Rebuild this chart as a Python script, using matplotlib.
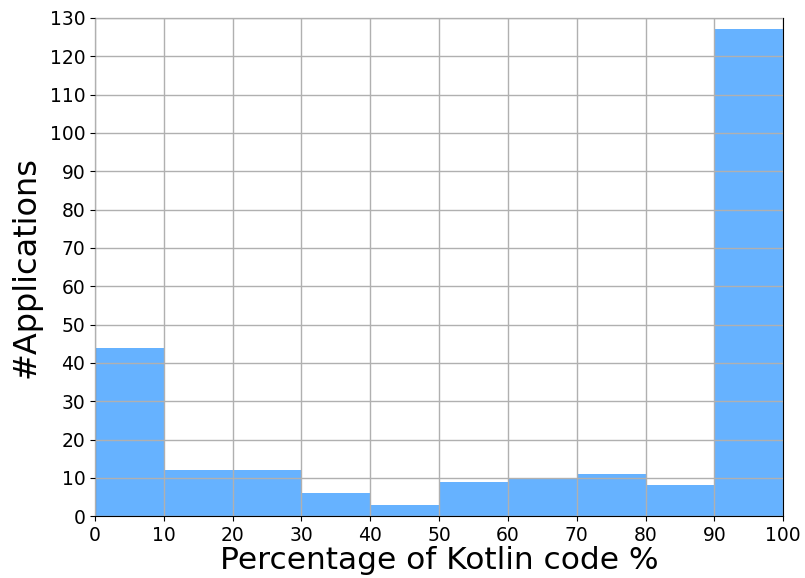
import numpy as np
import matplotlib
matplotlib.use('Agg')
import matplotlib.pyplot as plt

bin_edges = [0, 10, 20, 30, 40, 50, 60, 70, 80, 90, 100]
counts = [44, 12, 12, 6, 3, 9, 10, 11, 8, 127]
y_ticks = list(range(0, 131, 10))

fig = plt.figure(figsize=(8.05, 5.78), dpi=100)
ax = fig.add_axes([0.118, 0.107, 0.855, 0.862])

ax.hist(bin_edges[:-1], bins=bin_edges, weights=counts, color='#66b2ff', zorder=1)
ax.grid(True, color='#b0b0b0', linewidth=1, zorder=2)
ax.set_axisbelow(False)

ax.set_xlim(0, 100)
ax.set_ylim(0, 130)
ax.set_xticks(bin_edges)
ax.set_yticks(y_ticks)
ax.tick_params(labelsize=13.5)
ax.set_xlabel('Percentage of Kotlin code %', fontsize=22.5, labelpad=1)
ax.set_ylabel('#Applications', fontsize=23, labelpad=6)

plt.savefig('out.png', dpi=100)
